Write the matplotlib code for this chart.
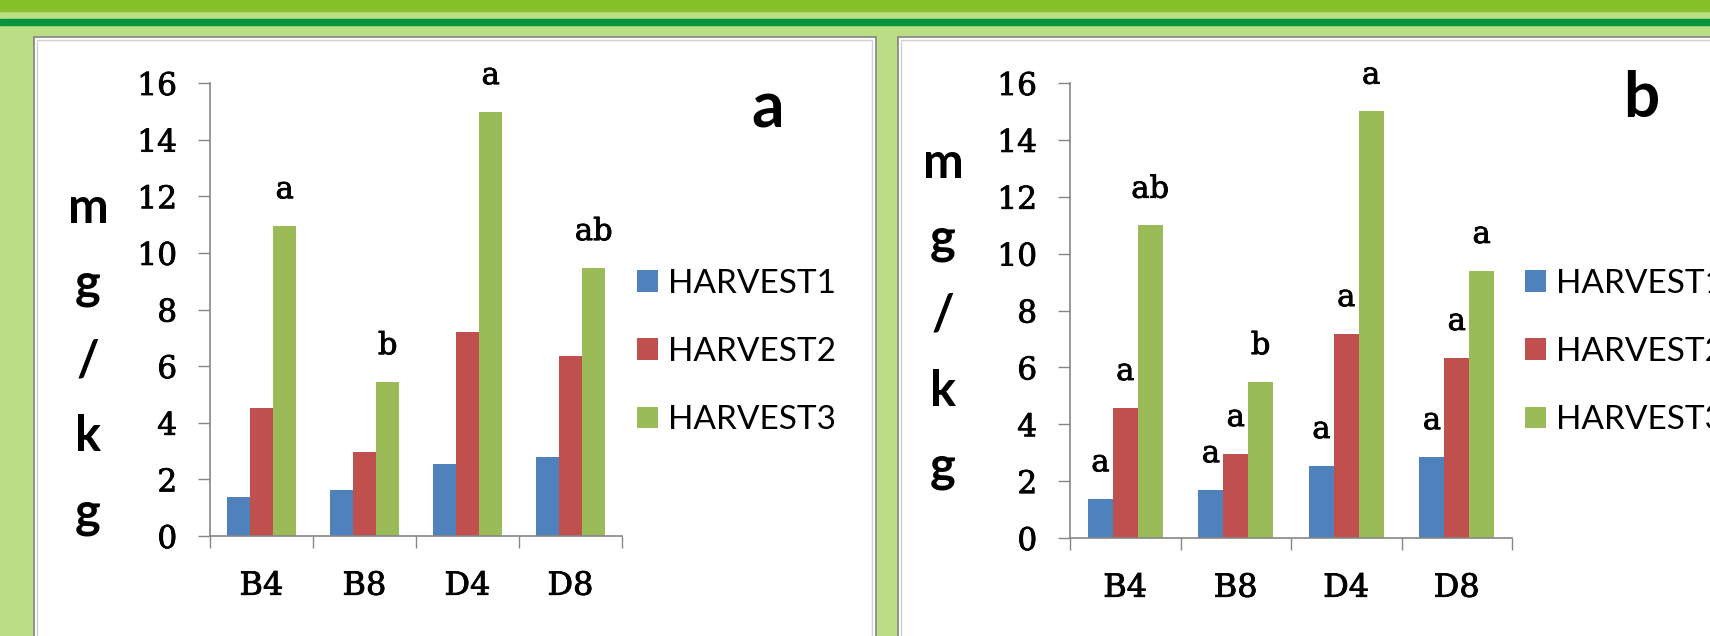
import numpy as np
import matplotlib
matplotlib.use("Agg")
import matplotlib.pyplot as plt
import matplotlib.patheffects as pe
from matplotlib.patches import Rectangle

# data
categories = ["B4", "B8", "D4", "D8"]
series_names = ["HARVEST1", "HARVEST2", "HARVEST3"]

harvest1_a = [1.38, 1.63, 2.54, 2.80]
harvest2_a = [4.52, 2.97, 7.20, 6.36]
harvest3_a = [10.95, 5.44, 14.98, 9.47]

harvest1_b = [1.37, 1.69, 2.54, 2.85]
harvest2_b = [4.58, 2.96, 7.18, 6.34]
harvest3_b = [10.99, 5.49, 15.00, 9.40]

# significance letters, one list per series ("" = none)
letters_a = [["", "", "", ""], ["", "", "", ""], ["a", "b", "a", "ab"]]
letters_b = [["a", "a", "a", "a"], ["a", "a", "a", "a"], ["ab", "b", "a", "a"]]

yticks = [0, 2, 4, 6, 8, 10, 12, 14, 16]
ylabel_chars = ["m", "g", "/", "k", "g"]

colors = ["#4F81BD", "#C0504D", "#9BBB59"]
W, H = 1710, 636
SERIF = "DejaVu Serif"
SANS = "Lato"
THICK = [pe.withStroke(linewidth=0.6, foreground="black")]


def fx(x):
    return x / W


def fy(y):
    return 1 - y / H


def rect(fig, x0, y0, x1, y1, **kw):
    r = Rectangle((fx(x0), fy(y1)), fx(x1) - fx(x0), fy(y0) - fy(y1),
                  transform=fig.transFigure, zorder=-10, **kw)
    fig.add_artist(r)


def draw_panel(ax, values, letters):
    x = np.arange(len(categories))
    w = 0.225
    for i, (vals, name) in enumerate(zip(values, series_names)):
        pos = x + (i - 1) * w
        ax.bar(pos, vals, w, color=colors[i], label=name, zorder=2)
        for p, v, lab in zip(pos, vals, letters[i]):
            if lab:
                ax.annotate(lab, (p, v), xytext=(0, 20), textcoords="offset points",
                            ha="center", va="baseline", fontsize=22, family=SERIF,
                            path_effects=THICK)
    ax.set_xlim(-0.5, len(categories) - 0.5)
    ax.set_ylim(0, 16)
    ax.set_yticks(yticks)
    ax.set_yticklabels([str(t) for t in yticks], family=SERIF, fontsize=22.5)
    ax.set_xticks(np.arange(-0.5, len(categories), 1))
    ax.set_xticklabels([])
    ax.set_xticks(x, minor=True)
    ax.set_xticklabels(categories, minor=True, family=SERIF, fontsize=23)
    for t in ax.get_yticklabels() + ax.get_xticklabels(minor=True):
        t.set_path_effects(THICK)
    ax.tick_params(axis="x", which="major", length=8.6, width=1, color="#868686", direction="out")
    ax.tick_params(axis="x", which="minor", length=0, pad=25)
    ax.tick_params(axis="y", length=8.6, width=1, color="#868686", direction="out", pad=15)
    for s in ["top", "right"]:
        ax.spines[s].set_visible(False)
    for s in ["left", "bottom"]:
        ax.spines[s].set_color("#868686")
        ax.spines[s].set_linewidth(1.2)
    ax.patch.set_visible(False)


fig = plt.figure(figsize=(W / 100, H / 100), dpi=100, facecolor="#B9DE84")

# header bands
rect(fig, 0, 0, W, 11, color="#86C12A")
rect(fig, 0, 19, W, 25, color="#00963F")

# white panels with double border
rect(fig, 34, 37, 876, H + 5, facecolor="white", edgecolor="#8a8a8a", linewidth=1.3)
rect(fig, 37, 40, 872, H + 5, facecolor="none", edgecolor="#d0d0d0", linewidth=1)
rect(fig, 898, 37, W + 5, H + 5, facecolor="white", edgecolor="#8a8a8a", linewidth=1.3)
rect(fig, 901, 40, W + 5, H + 5, facecolor="none", edgecolor="#d0d0d0", linewidth=1)

legend_kw = dict(frameon=False, prop={"family": SANS, "size": 24}, handlelength=0.62,
                 handleheight=0.62, handletextpad=0.3, labelspacing=1.15,
                 borderpad=0, borderaxespad=0)

# panel a
ax1 = fig.add_axes([fx(210), fy(536), fx(622) - fx(210), fy(83) - fy(536)])
draw_panel(ax1, [harvest1_a, harvest2_a, harvest3_a], letters_a)
ax1.legend(loc="center left", bbox_to_anchor=(1 + 15 / 412, (536 - 352) / 453), **legend_kw)

# panel b
ax2 = fig.add_axes([fx(1070), fy(538), fx(1512) - fx(1070), fy(83) - fy(538)])
draw_panel(ax2, [harvest1_b, harvest2_b, harvest3_b], letters_b)
ax2.legend(loc="center left", bbox_to_anchor=(1 + 13 / 442, (538 - 352) / 455), **legend_kw)

# stacked y-axis labels "mg/kg"
for x0, y0 in [(88, 223), (943, 178)]:
    for i, ch in enumerate(ylabel_chars):
        fig.text(fx(x0), fy(y0 + i * 76), ch, ha="center", va="baseline",
                 family=SANS, fontweight="bold", fontsize=35)

# panel letters
fig.text(fx(768), fy(128), "a", ha="center", va="baseline", family=SANS,
         fontweight="bold", fontsize=46)
fig.text(fx(1641), fy(117), "b", ha="center", va="baseline", family=SANS,
         fontweight="bold", fontsize=46)

fig.savefig("out.png", dpi=100, facecolor=fig.get_facecolor())
